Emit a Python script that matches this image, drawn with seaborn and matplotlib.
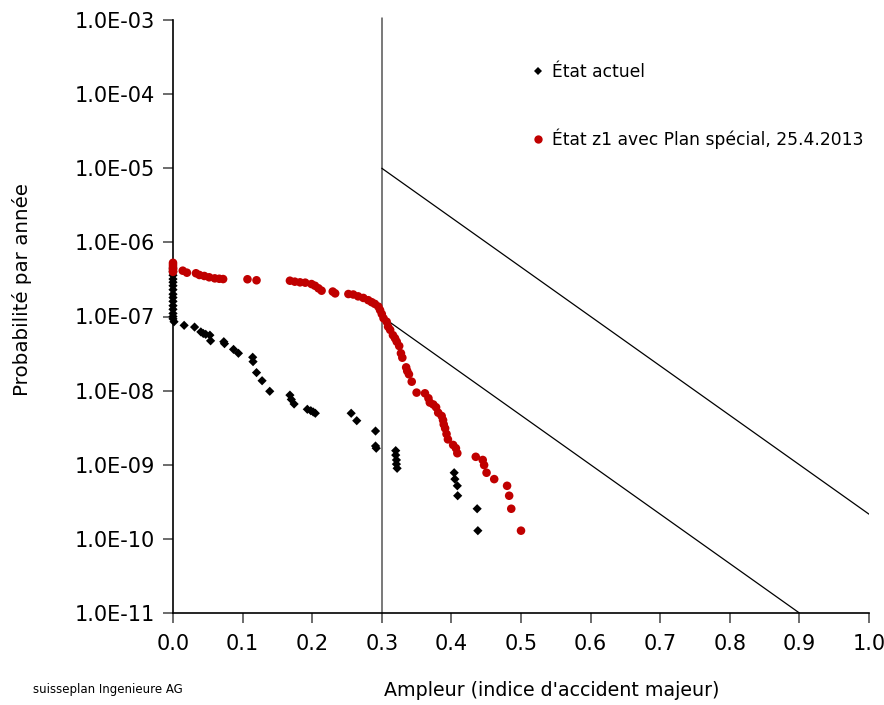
import numpy as np
import pandas as pd
import matplotlib
matplotlib.use("Agg")
import matplotlib.pyplot as plt
import seaborn as sns
from matplotlib.ticker import FixedLocator, FuncFormatter, NullLocator
from matplotlib.lines import Line2D

# ---------------- data ----------------
label_actuel = "État actuel"
label_z1 = "État z1 avec Plan spécial, 25.4.2013"

actuel_x = [0.0] * 15 + [
    0.0015, 0.016, 0.031, 0.040, 0.0435, 0.047, 0.053, 0.054, 0.073, 0.074,
    0.087, 0.094, 0.1145, 0.115, 0.120, 0.128, 0.139, 0.168, 0.170, 0.174,
    0.193, 0.198, 0.2015, 0.2045, 0.256, 0.264, 0.291, 0.291, 0.292,
    0.320, 0.320, 0.321, 0.321, 0.322, 0.404, 0.405, 0.4085, 0.409,
    0.437, 0.438]
actuel_y = [4.5e-7, 4.0e-7, 3.6e-7, 3.2e-7, 2.9e-7, 2.6e-7, 2.3e-7, 2.0e-7,
            1.8e-7, 1.6e-7, 1.4e-7, 1.25e-7, 1.1e-7, 1.0e-7, 9.3e-8] + [
    8.5e-8, 7.6e-8, 7.2e-8, 6.2e-8, 5.9e-8, 5.75e-8, 5.6e-8, 4.7e-8, 4.57e-8, 4.3e-8,
    3.6e-8, 3.19e-8, 2.82e-8, 2.46e-8, 1.75e-8, 1.36e-8, 9.8e-9, 8.7e-9, 7.6e-9, 6.6e-9,
    5.6e-9, 5.36e-9, 5.15e-9, 4.95e-9, 4.95e-9, 3.93e-9, 2.85e-9, 1.79e-9, 1.67e-9,
    1.55e-9, 1.35e-9, 1.16e-9, 1.02e-9, 8.95e-10, 7.8e-10, 6.4e-10, 5.2e-10, 3.82e-10,
    2.55e-10, 1.29e-10]

z1_x = [0.0] * 6 + [
    0.014, 0.020, 0.033, 0.038, 0.045, 0.052, 0.060, 0.0665, 0.072, 0.107,
    0.120, 0.168, 0.175, 0.1825, 0.190, 0.199, 0.204, 0.209, 0.2135, 0.2295,
    0.233, 0.252, 0.259, 0.266, 0.2735, 0.2805, 0.2855, 0.290, 0.295, 0.2975,
    0.300, 0.3025, 0.307, 0.309, 0.312, 0.316, 0.319, 0.3215, 0.325, 0.3275,
    0.3295, 0.335, 0.3365, 0.339, 0.343, 0.350, 0.362, 0.367, 0.369, 0.374,
    0.378, 0.381, 0.386, 0.388, 0.389, 0.391, 0.393, 0.395, 0.4025, 0.4065,
    0.4085, 0.435, 0.445, 0.447, 0.4505, 0.4615, 0.480, 0.483, 0.486, 0.500]
z1_y = [5.3e-7, 5.0e-7, 4.7e-7, 4.4e-7, 4.2e-7, 4.0e-7] + [
    4.15e-7, 3.9e-7, 3.83e-7, 3.63e-7, 3.52e-7, 3.38e-7, 3.27e-7, 3.23e-7, 3.2e-7, 3.18e-7,
    3.08e-7, 3.04e-7, 2.95e-7, 2.89e-7, 2.86e-7, 2.74e-7, 2.6e-7, 2.4e-7, 2.23e-7, 2.17e-7,
    2.05e-7, 2.01e-7, 1.98e-7, 1.87e-7, 1.78e-7, 1.66e-7, 1.56e-7, 1.48e-7, 1.36e-7, 1.22e-7,
    1.08e-7, 9.46e-8, 8.5e-8, 7.3e-8, 6.6e-8, 5.6e-8, 5.08e-8, 4.57e-8, 4.0e-8, 3.19e-8,
    2.78e-8, 2.06e-8, 1.84e-8, 1.66e-8, 1.32e-8, 9.4e-9, 9.2e-9, 7.9e-9, 6.9e-9, 6.5e-9,
    5.96e-9, 5.04e-9, 4.55e-9, 4.0e-9, 3.5e-9, 3.1e-9, 2.6e-9, 2.2e-9, 1.85e-9, 1.67e-9,
    1.43e-9, 1.28e-9, 1.16e-9, 9.9e-10, 7.8e-10, 6.4e-10, 5.2e-10, 3.82e-10, 2.55e-10, 1.29e-10]

# criteria lines (start / end points in data units)
limit_upper_x = [0.3, 1.0]
limit_upper_y = [1e-5, 10 ** (-5 - 4 / 0.6 * 0.7)]
limit_lower_x = [0.3, 0.9]
limit_lower_y = [1e-7, 1e-11]
vertical_x = 0.3

x_ticks = [0.0, 0.1, 0.2, 0.3, 0.4, 0.5, 0.6, 0.7, 0.8, 0.9, 1.0]
y_ticks = [1e-11, 1e-10, 1e-9, 1e-8, 1e-7, 1e-6, 1e-5, 1e-4, 1e-3]

# ---------------- figure ----------------
sns.set_theme(style="ticks")
plt.rcParams['font.family'] = ['DejaVu Sans']
plt.rcParams['text.color'] = 'black'

df = pd.DataFrame({
    "x": actuel_x + z1_x,
    "y": actuel_y + z1_y,
    "serie": [label_actuel] * len(actuel_x) + [label_z1] * len(z1_x),
})

fig = plt.figure(figsize=(8.84, 7.05), dpi=100)
ax = fig.add_axes([173 / 884, 1 - 613 / 705, (869 - 173) / 884, (613 - 20) / 705])

ax.plot([vertical_x, vertical_x], [1e-11, 1.05e-3], color="#555555", lw=1.1, zorder=1,
        clip_on=False)
ax.plot(limit_upper_x, limit_upper_y, color="black", lw=0.9, zorder=1)
ax.plot(limit_lower_x, limit_lower_y, color="black", lw=0.9, zorder=1)

d_act = df[df.serie == label_actuel]
d_z1 = df[df.serie == label_z1]
sns.scatterplot(data=d_act, x="x", y="y", marker="D", s=22, color="black",
                edgecolor="none", ax=ax, zorder=3, clip_on=False, legend=False)
sns.scatterplot(data=d_z1, x="x", y="y", marker="o", s=38, color="#C00000",
                edgecolor="none", ax=ax, zorder=4, clip_on=False, legend=False)

ax.set_yscale("log")
ax.set_xlim(0, 1.0)
ax.set_ylim(1e-11, 1e-3)
ax.xaxis.set_major_locator(FixedLocator(x_ticks))
ax.xaxis.set_major_formatter(FuncFormatter(lambda v, p: f"{v:.1f}"))
ax.yaxis.set_major_locator(FixedLocator(y_ticks))
ax.yaxis.set_minor_locator(NullLocator())
ax.yaxis.set_major_formatter(FuncFormatter(lambda v, p: f"{v:.1E}"))

for s in ["top", "right"]:
    ax.spines[s].set_visible(False)
for s in ["left", "bottom"]:
    ax.spines[s].set_color("black")
    ax.spines[s].set_linewidth(1.2)
ax.tick_params(axis="both", direction="out", length=7, width=1.1, color="#444444",
               labelsize=15, labelcolor="black")
ax.tick_params(axis="x", pad=8)
ax.tick_params(axis="y", pad=6)

ax.set_xlabel("")
ax.set_ylabel("")
fig.text(22 / 884, 1 - 290 / 705, "Probabilité par année", rotation=90,
         ha="center", va="center", fontsize=14.3, color="black")
fig.text(552 / 884, 1 - 690 / 705, "Ampleur (indice d'accident majeur)",
         ha="center", va="center", fontsize=13.7, color="black")
fig.text(33 / 884, 1 - 690 / 705, "suisseplan Ingenieure AG",
         ha="left", va="center", fontsize=8.5, color="black")

handles = [
    Line2D([], [], marker="D", color="black", ls="none", markersize=4.5, markeredgewidth=0),
    Line2D([], [], marker="o", color="#C00000", ls="none", markersize=6, markeredgewidth=0),
]
leg = ax.legend(handles, [label_actuel, label_z1], loc="upper left",
                bbox_to_anchor=((526 - 173) / 696, 1 - 36 / 593),
                frameon=False, fontsize=12.3, labelspacing=2.8, handlelength=0.6,
                handletextpad=0.55, borderaxespad=0)
for t in leg.get_texts():
    t.set_color("black")

fig.savefig("out.png", dpi=100)
